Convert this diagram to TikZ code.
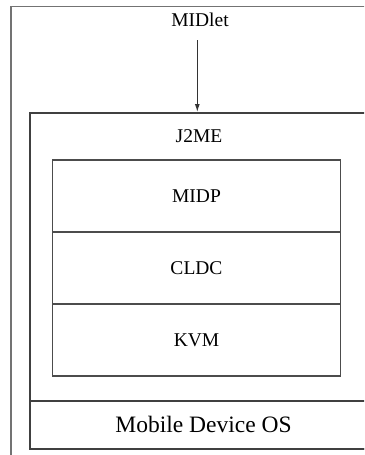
\documentclass[tikz,border=0pt]{standalone}
\usepackage{fontspec}
\setmainfont{Liberation Serif}
\usetikzlibrary{arrows.meta}
\tikzset{
  frame/.style={draw=black!55, line width=1.8pt, inner sep=0pt},
  platform/.style={draw=black!75, line width=1.5pt, inner sep=0pt},
  layerbox/.style={draw=black!70, line width=1.5pt, inner sep=0pt,
    minimum width=288.4pt, minimum height=72pt,
    font=\fontsize{19.5}{22}\selectfont},
  lbl/.style={inner sep=0pt, font=\fontsize{19.5}{22}\selectfont},
  flow/.style={draw=black!80, line width=1.1pt,
    -{Latex[length=8pt,width=5pt]}}
}
\begin{document}
\begin{tikzpicture}[x=1pt,y=-1pt]
  \useasboundingbox (0,0) rectangle (364,455);
  \fill[white] (0,0) rectangle (364,455);
  \clip (0,0) rectangle (364,455);

  % device frame
  \node[frame, anchor=north west, minimum width=380pt, minimum height=480pt]
    (device) at (10,5.5) {};

  % J2ME platform and the OS beneath it
  \node[platform, anchor=north west, minimum width=347.6pt, minimum height=336pt]
    (j2me) at (29,112) {};
  \node[platform, anchor=north west, minimum width=347.6pt, minimum height=48pt,
    font=\fontsize{23.5}{26}\selectfont] (os) at (29,400) {Mobile Device OS};

  % software stack
  \node[layerbox] (midp) at (196.5,196) {MIDP};
  \node[layerbox] (cldc) at (196.5,268) {CLDC};
  \node[layerbox] (kvm)  at (196.5,340) {KVM};

  % labels
  \node[lbl] (midlet) at (200,19.5) {MIDlet};
  \node[lbl] (j2melabel) at (199,136) {J2ME};

  % MIDlet runs on J2ME
  \coordinate (arrowtop) at (197.3,40);
  \draw[flow] (arrowtop) -- (arrowtop |- j2me.north);
\end{tikzpicture}
\end{document}
